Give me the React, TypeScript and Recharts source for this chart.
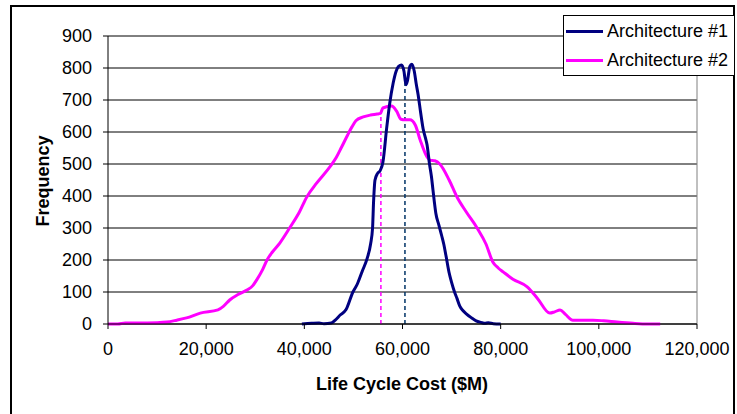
import React from "react";
import { LineChart, Line, XAxis, YAxis, CartesianGrid, ReferenceLine } from "recharts";

// Architecture #1 (navy) – life cycle cost ($M) and frequency
const arch1Cost = [
  39500, 41500, 43000, 44000, 45500, 46300, 47300, 48500, 49900, 50800, 51800, 52800, 53500, 53900, 54100,
  54400, 54900, 55400, 56000, 56800, 57400, 58100, 58700, 59200, 59800, 60300, 60700, 61000, 61500, 61900,
  62400, 62800, 63200, 63700, 64200, 64700, 65000, 65500, 65900, 66200, 66500, 66800, 67400, 68000, 68400,
  68900, 69500, 70000, 70600, 71100, 71700, 72300, 73000, 74000, 75000, 76000, 76800, 77500, 78500, 80000,
];
const arch1Freq = [
  0, 2, 3, 1, 3, 12, 28, 45, 100, 125, 165, 205, 250, 300, 380,
  450, 470, 478, 505, 616, 690, 753, 790, 805, 809, 790, 748, 760, 805, 812,
  790, 750, 715, 660, 610, 580, 560, 500, 460, 420, 380, 345, 310, 275, 250,
  210, 160, 130, 100, 80, 55, 42, 32, 20, 10, 5, 2, 4, 1, 0,
];

// Architecture #2 (magenta)
const arch2Cost = [
  0, 2000, 3500, 6000, 10000, 12000, 14000, 16000, 18800, 22400, 23500, 24800, 26500, 28300, 29500,
  30300, 31500, 32400, 33500, 35000, 37000, 39000, 40500, 42500, 45200, 46500, 47600, 48800, 49700, 50500,
  52000, 53500, 54800, 55500, 56000, 57800, 58800, 59700, 60500, 61500, 62600, 63600, 65000, 65600, 66600,
  67600, 69500, 71100, 73000, 75200, 77000, 78400, 79500, 80500, 82500, 85400, 87500, 90000, 91000, 92100,
  93200, 94700, 96500, 98800, 101000, 103700, 107000, 110000, 112500,
];
const arch2Freq = [
  0, 0, 3, 3, 4, 6, 12, 19, 34, 44, 55, 75, 92, 106, 120,
  138, 170, 200, 225, 253, 300, 350, 397, 440, 491, 520, 553, 590, 616, 635,
  647, 653, 656, 658, 675, 681, 665, 640, 638, 638, 622, 575, 522, 512, 510,
  500, 450, 397, 350, 300, 250, 194, 175, 163, 140, 116, 80, 34, 38, 44,
  30, 12, 12, 12, 10, 6, 2, 0, 0,
];

// mean markers
const arch1Mean = 60500;
const arch1MeanHeight = 758;
const arch2Mean = 55600;
const arch2MeanHeight = 666;

const xTicks = [0, 20000, 40000, 60000, 80000, 100000, 120000];
const yTicks = [0, 100, 200, 300, 400, 500, 600, 700, 800, 900];

const seriesNames = ["Architecture #1", "Architecture #2"];
const NAVY = "#000080";
const PINK = "#FF00FF";
const FONT = "'Liberation Sans', Arial, sans-serif";

const arch1Data = arch1Cost.map((c, i) => ({ cost: c, freq: arch1Freq[i] }));
const arch2Data = arch2Cost.map((c, i) => ({ cost: c, freq: arch2Freq[i] }));

function ChartLegend() {
  return (
    <div
      style={{
        position: "absolute",
        left: 563,
        top: 15,
        width: 172,
        height: 61,
        boxSizing: "border-box",
        border: "1px solid #000",
        background: "#fff",
        fontFamily: FONT,
        fontSize: 18,
        color: "#000",
      }}
    >
      {seriesNames.map((name, i) => (
        <div key={name} style={{ display: "flex", alignItems: "center", height: 29, marginTop: i === 0 ? 1 : 0 }}>
          <div style={{ width: 37, height: 3, background: i === 0 ? NAVY : PINK, marginLeft: 2, marginRight: 4 }} />
          <span>{name}</span>
        </div>
      ))}
    </div>
  );
}

export default function App() {
  return (
    <div style={{ position: "relative", width: 737, height: 414, overflow: "hidden", background: "#fff" }}>
      <style>{"body{margin:0;overflow:hidden}"}</style>
      <div
        style={{
          position: "absolute",
          left: 10,
          top: 5,
          width: 725,
          height: 430,
          boxSizing: "border-box",
          border: "2px solid #000",
        }}
      />
      <div style={{ position: "absolute", left: 0, top: 0 }}>
        <LineChart width={737} height={414} margin={{ top: 36, right: 40, bottom: 60, left: 0 }}>
          <CartesianGrid vertical={false} stroke="#000" strokeWidth={1} />
          <XAxis
            type="number"
            dataKey="cost"
            domain={[0, 120000]}
            ticks={xTicks}
            interval={0}
            allowDataOverflow
            height={30}
            tickSize={5}
            tickMargin={13}
            stroke="#000"
            tick={{ fill: "#000", fontSize: 18, fontFamily: FONT }}
            tickFormatter={(v: number) => v.toLocaleString("en-US")}
            label={() => (
              <text
                x={402}
                y={390}
                textAnchor="middle"
                fontFamily={FONT}
                fontSize={18}
                fontWeight="bold"
                fill="#000"
              >
                Life Cycle Cost ($M)
              </text>
            )}
          />
          <YAxis
            type="number"
            dataKey="freq"
            domain={[0, 900]}
            ticks={yTicks}
            interval={0}
            width={108}
            tickSize={5}
            tickMargin={11}
            stroke="#000"
            tick={{ fill: "#000", fontSize: 18, fontFamily: FONT }}
            label={() => (
              <text
                x={49}
                y={181}
                transform="rotate(-90 49 181)"
                textAnchor="middle"
                fontFamily={FONT}
                fontSize={18}
                fontWeight="bold"
                fill="#000"
              >
                Frequency
              </text>
            )}
          />
          <ReferenceLine x={120000} stroke="#808080" strokeWidth={1} />
          <ReferenceLine
            segment={[
              { x: arch2Mean, y: 0 },
              { x: arch2Mean, y: arch2MeanHeight },
            ]}
            stroke={PINK}
            strokeWidth={1.5}
            strokeDasharray="4 3"
          />
          <ReferenceLine
            segment={[
              { x: arch1Mean, y: 0 },
              { x: arch1Mean, y: arch1MeanHeight },
            ]}
            stroke="#003366"
            strokeWidth={1.5}
            strokeDasharray="4 3"
          />
          <Line
            data={arch2Data}
            dataKey="freq"
            name={seriesNames[1]}
            type="monotone"
            stroke={PINK}
            strokeWidth={3}
            dot={false}
            isAnimationActive={false}
          />
          <Line
            data={arch1Data}
            dataKey="freq"
            name={seriesNames[0]}
            type="monotone"
            stroke={NAVY}
            strokeWidth={3}
            dot={false}
            isAnimationActive={false}
          />
        </LineChart>
      </div>
      <ChartLegend />
    </div>
  );
}
